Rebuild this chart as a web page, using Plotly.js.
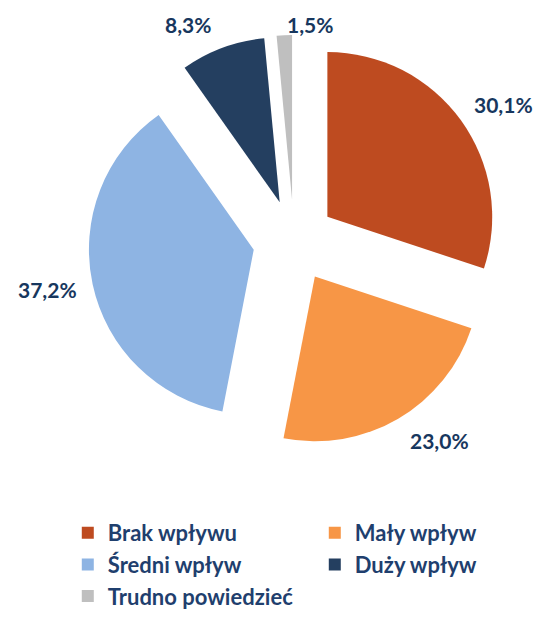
<!DOCTYPE html>
<html>
<head>
<meta charset="utf-8">
<script src="https://cdn.plot.ly/plotly-3.0.1.min.js"></script>
<style>html,body{margin:0;padding:0;background:#fff;}#chart{width:538px;height:617px;}</style>
</head>
<body>
<div id="chart"></div>
<script>
var categories = ["Brak wpływu", "Mały wpływ", "Średni wpływ", "Duży wpływ", "Trudno powiedzieć"];
var values = [30.1, 23.0, 37.2, 8.3, 1.5];
var colors = ["#BE4B20", "#F79646", "#8EB4E3", "#243F60", "#BFBFBF"];

// label anchor positions (paper fractions), one per slice
var labelX = [0.9368, 0.8178, 0.0892, 0.3494, 0.5762];
var labelY = [0.7907, 0.1127, 0.4185, 0.9497, 0.9497];

var labelFont = {family: "Lato, 'Open Sans', sans-serif", size: 21, color: "#17375E", weight: "bold"};

var annotations = values.map(function (v, i) {
  return {
    text: v.toFixed(1).replace(".", ",") + "%",
    xref: "paper", yref: "paper",
    x: labelX[i], y: labelY[i],
    xanchor: "center", yanchor: "middle",
    showarrow: false,
    font: labelFont
  };
});

var trace = {
  type: "pie",
  labels: categories,
  values: values,
  sort: false,
  direction: "clockwise",
  rotation: 0,
  pull: [0.25, 0.25, 0.25, 0.25, 0.25],
  marker: {colors: colors, line: {width: 0}},
  textinfo: "none",
  hoverinfo: "none",
  domain: {x: [0.1636, 0.9294], y: [0.1006, 0.9296]}
};

var layout = {
  width: 538,
  height: 617,
  margin: {l: 0, r: 0, t: 0, b: 120},
  paper_bgcolor: "#ffffff",
  separators: ",.",
  showlegend: true,
  annotations: annotations,
  legend: {
    orientation: "h",
    xref: "container",
    yref: "container",
    x: 0.126,
    xanchor: "left",
    y: -0.008,
    yanchor: "bottom",
    entrywidth: 202,
    entrywidthmode: "pixels",
    tracegroupgap: 0,
    font: {family: "Lato, 'Open Sans', sans-serif", size: 22, color: "#1F3F6E", weight: "bold"}
  }
};

Plotly.newPlot("chart", [trace], layout, {displayModeBar: false, staticPlot: true});
</script>
</body>
</html>
